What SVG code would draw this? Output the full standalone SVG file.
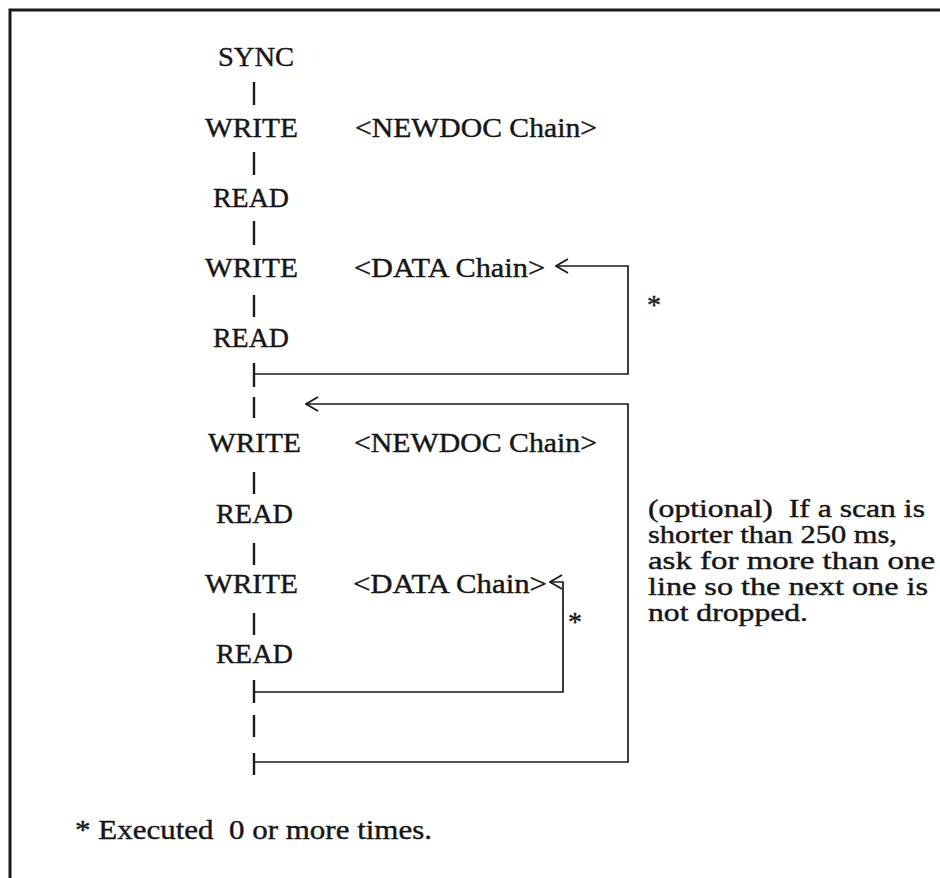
<svg xmlns="http://www.w3.org/2000/svg" width="940" height="878" viewBox="0 0 940 878">
<style>
  text { font-family: "Liberation Serif", "Times New Roman", serif; fill: #161616; stroke: #161616; stroke-width: 0.4; }
  .lbl { font-size: 28px; }
  .para { font-size: 24.5px; }
  .foot { font-size: 27px; }
  .conn { fill: none; stroke: #1a1a1a; stroke-width: 1.7; }
  .dash { stroke: #1a1a1a; stroke-width: 2.4; }
  .frame { fill: none; stroke: #1a1a1a; stroke-width: 3; }
</style>
<defs>
  <marker id="chev" viewBox="0 0 14 16" refX="13" refY="8" markerWidth="14" markerHeight="16" markerUnits="userSpaceOnUse" orient="auto">
    <path d="M1,1 L13,8 L1,15" fill="none" stroke="#1a1a1a" stroke-width="1.8"/>
  </marker>
</defs>
<rect width="940" height="878" fill="#ffffff"/>
<path class="frame" d="M10,878 V10 H940"/>

<g id="connectors">
  <line class="dash" x1="254" y1="82" x2="254" y2="105"/>
  <line class="dash" x1="254" y1="152" x2="254" y2="175"/>
  <line class="dash" x1="254" y1="221" x2="254" y2="245"/>
  <line class="dash" x1="254" y1="295" x2="254" y2="317"/>
  <line class="dash" x1="254" y1="363" x2="254" y2="387"/>
  <line class="dash" x1="254" y1="397" x2="254" y2="418"/>
  <line class="dash" x1="254" y1="472" x2="254" y2="494"/>
  <line class="dash" x1="254" y1="543" x2="254" y2="565"/>
  <line class="dash" x1="254" y1="613" x2="254" y2="635"/>
  <line class="dash" x1="254" y1="680" x2="254" y2="703"/>
  <line class="dash" x1="254" y1="715" x2="254" y2="737"/>
  <line class="dash" x1="254" y1="753" x2="254" y2="775"/>
  <path id="loop1" class="conn" d="M254,374 H628 V266 H556" marker-end="url(#chev)"/>
  <path id="loop2" class="conn" d="M254,762 H628 V404 H306" marker-end="url(#chev)"/>
  <path id="loop3" class="conn" d="M254,692 H563 V582 H550" marker-end="url(#chev)"/>
</g>

<g id="sync"><text class="lbl" x="218" y="66" textLength="76" lengthAdjust="spacingAndGlyphs">SYNC</text></g>
<g id="write1"><text class="lbl" x="205" y="137" textLength="93" lengthAdjust="spacingAndGlyphs">WRITE</text></g>
<g id="newdoc1"><text class="lbl" x="355" y="137" textLength="242" lengthAdjust="spacingAndGlyphs">&lt;NEWDOC Chain&gt;</text></g>
<g id="read1"><text class="lbl" x="213" y="207" textLength="76" lengthAdjust="spacingAndGlyphs">READ</text></g>
<g id="write2"><text class="lbl" x="205" y="277" textLength="93" lengthAdjust="spacingAndGlyphs">WRITE</text></g>
<g id="data1"><text class="lbl" x="354" y="277" textLength="191" lengthAdjust="spacingAndGlyphs">&lt;DATA Chain&gt;</text></g>
<g id="read2"><text class="lbl" x="213" y="347" textLength="76" lengthAdjust="spacingAndGlyphs">READ</text></g>
<g id="star1"><text class="lbl" x="647" y="314">*</text></g>

<g id="write3"><text class="lbl" x="208" y="452" textLength="93" lengthAdjust="spacingAndGlyphs">WRITE</text></g>
<g id="newdoc2"><text class="lbl" x="354" y="452" textLength="243" lengthAdjust="spacingAndGlyphs">&lt;NEWDOC Chain&gt;</text></g>
<g id="read3"><text class="lbl" x="216" y="523" textLength="77" lengthAdjust="spacingAndGlyphs">READ</text></g>
<g id="write4"><text class="lbl" x="205" y="593" textLength="93" lengthAdjust="spacingAndGlyphs">WRITE</text></g>
<g id="data2"><text class="lbl" x="353" y="593" textLength="194" lengthAdjust="spacingAndGlyphs">&lt;DATA Chain&gt;</text></g>
<g id="read4"><text class="lbl" x="216" y="663" textLength="77" lengthAdjust="spacingAndGlyphs">READ</text></g>
<g id="star2"><text class="lbl" x="568" y="631">*</text></g>

<g id="note">
  <text class="para" x="648" y="517" textLength="277" lengthAdjust="spacingAndGlyphs" xml:space="preserve">(optional)  If a scan is</text>
  <text class="para" x="648" y="543" textLength="249" lengthAdjust="spacingAndGlyphs">shorter than 250 ms,</text>
  <text class="para" x="648" y="569" textLength="287" lengthAdjust="spacingAndGlyphs">ask for more than one</text>
  <text class="para" x="648" y="595" textLength="280" lengthAdjust="spacingAndGlyphs">line so the next one is</text>
  <text class="para" x="648" y="621" textLength="160" lengthAdjust="spacingAndGlyphs">not dropped.</text>
</g>

<g id="footnote">
  <text class="foot" x="75" y="839" textLength="357" lengthAdjust="spacingAndGlyphs" xml:space="preserve">* Executed  0 or more times.</text>
</g>
</svg>
